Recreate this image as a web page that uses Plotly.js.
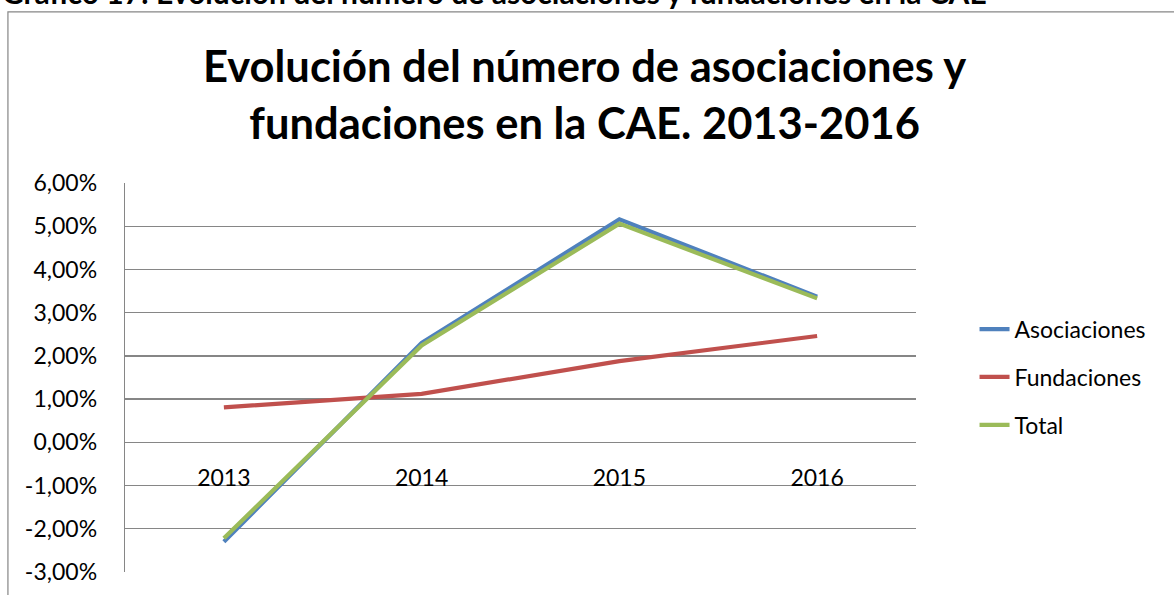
<!DOCTYPE html>
<html>
<head>
<meta charset="utf-8">
<script src="https://cdn.plot.ly/plotly-3.0.1.min.js"></script>
<style>
  html, body { margin: 0; padding: 0; background: #ffffff; }
  #chart { width: 1174px; height: 595px; }
</style>
</head>
<body>
<div id="chart"></div>
<script>
// ---- data (percentages) ----
const years = ['2013', '2014', '2015', '2016'];
const asociaciones = [-2.30, 2.30, 5.16, 3.37];
const fundaciones = [0.81, 1.12, 1.88, 2.46];
const total = [-2.22, 2.24, 5.06, 3.33];
const seriesNames = ['Asociaciones', 'Fundaciones', 'Total'];
const yTicks = [-3, -2, -1, 0, 1, 2, 3, 4, 5, 6];
const yTickText = yTicks.map(v => v.toFixed(2).replace('.', ',') + '%');

const FONT = 'Lato, "Open Sans", sans-serif';
const GRID = '#868686';

function line(name, y, color, group) {
  return {
    type: 'scatter', mode: 'lines', name: name, x: years, y: y,
    legendgroup: group,
    line: { color: color, width: 4.2, shape: 'linear' },
    hoverinfo: 'skip'
  };
}

const data = [
  line(seriesNames[0], asociaciones, '#4F81BD', 'g1'),
  line(seriesNames[1], fundaciones, '#C0504D', 'g2'),
  line(seriesNames[2], total, '#9BBB59', 'g3')
];

const layout = {
  width: 1174, height: 595,
  paper_bgcolor: '#ffffff', plot_bgcolor: '#ffffff',
  margin: { l: 125, r: 258, t: 183, b: 23, pad: 0 },
  font: { family: FONT, color: '#000000', size: 23 },
  title: {
    text: '<b>Evolución del número de asociaciones y<br>fundaciones en la CAE. 2013-2016</b>',
    font: { family: FONT, size: 43.5, color: '#000000' },
    xref: 'container', x: 0.498, xanchor: 'center',
    yref: 'container', y: 0.862, yanchor: 'middle'
  },
  showlegend: true,
  legend: {
    x: 1.074, xanchor: 'left', y: 0.501, yanchor: 'middle',
    font: { family: FONT, size: 23, color: '#000000' },
    bgcolor: 'rgba(0,0,0,0)', borderwidth: 0,
    tracegroupgap: 15, traceorder: 'grouped'
  },
  xaxis: {
    type: 'category', range: [-0.5, 3.5],
    anchor: 'free', position: 1 / 3,
    showgrid: false, zeroline: false, showline: false,
    ticks: '', ticklabelstandoff: 20,
    tickfont: { family: FONT, size: 23, color: '#000000' },
    fixedrange: true
  },
  yaxis: {
    range: [-3, 6], tickmode: 'array', tickvals: yTicks, ticktext: yTickText,
    showgrid: true, gridcolor: GRID, gridwidth: 1.3,
    zeroline: false,
    showline: true, linecolor: GRID, linewidth: 1.3,
    ticks: '', ticklabelstandoff: 22,
    tickfont: { family: FONT, size: 23, color: '#000000' },
    fixedrange: true
  },
  shapes: [
    {
      type: 'rect', xref: 'paper', yref: 'paper',
      x0: -0.148, x1: 1.7, y0: -0.3, y1: 1.44,
      line: { color: GRID, width: 1.2 }, fillcolor: 'rgba(0,0,0,0)', layer: 'below'
    }
  ],
  annotations: [
    {
      text: '<b>Gráfico 17: Evolución del número de asociaciones y fundaciones en la CAE</b>',
      xref: 'paper', yref: 'paper', x: -0.158, xanchor: 'left',
      y: 1.4396, yanchor: 'bottom', showarrow: false,
      font: { family: FONT, size: 30, color: '#000000' }
    }
  ]
};

Plotly.newPlot('chart', data, layout, { displayModeBar: false, staticPlot: true });
</script>
</body>
</html>
